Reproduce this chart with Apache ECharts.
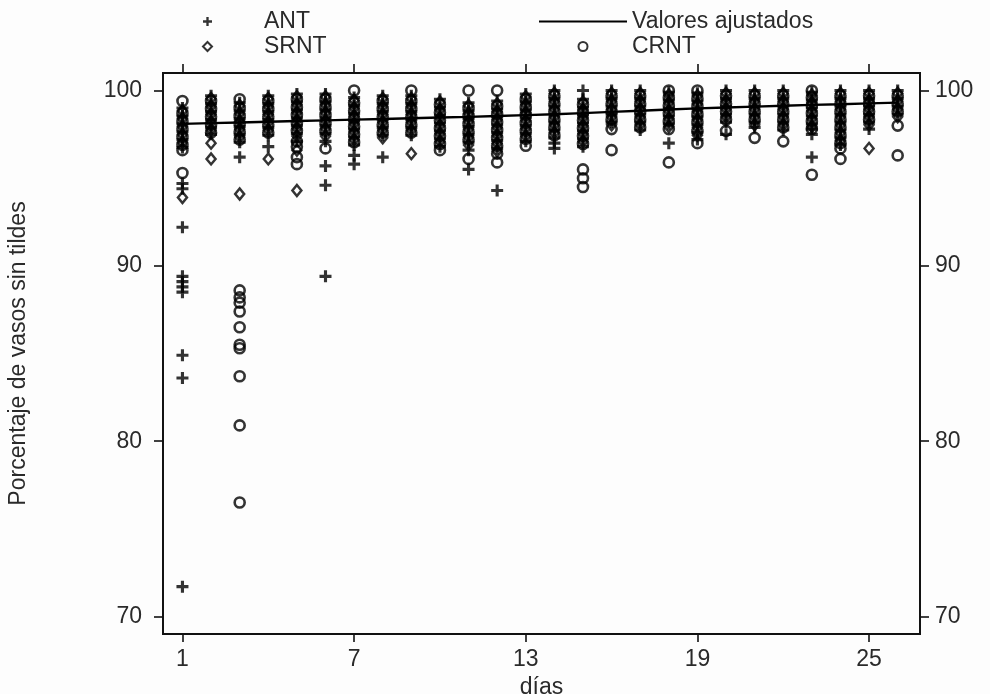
<!DOCTYPE html>
<html>
<head>
<meta charset="utf-8">
<script src="https://cdn.jsdelivr.net/npm/echarts@6/dist/echarts.min.js"></script>
<style>
html,body{margin:0;padding:0;background:#fdfdfd;}
#chart{width:990px;height:694px;}
</style>
</head>
<body>
<div id="chart"></div>
<script>
// Day numbers (x values)
const days = [1,2,3,4,5,6,7,8,9,10,11,12,13,14,15,16,17,18,19,20,21,22,23,24,25,26];
const xTicks = [1,7,13,19,25];
const yTicks = [70,80,90,100];

// ANT (+) values per day
const antByDay = [
  [99.0,98.55,98.1,97.65,97.2,96.75,94.7,94.4,92.2,89.4,89.1,88.8,88.5,84.9,83.6,71.7],
  [99.7,99.25,98.8,98.35,97.9,97.5],
  [99.3,98.85,98.4,97.95,97.5,97.05,96.2],
  [99.7,99.25,98.8,98.35,97.9,97.45,96.8],
  [99.8,99.35,98.9,98.45,98.0,97.55,97.1],
  [99.8,99.35,98.9,98.45,98.0,97.55,97.1,95.7,94.6,89.4],
  [99.6,99.15,98.7,98.25,97.8,97.35,96.9,96.3,95.8],
  [99.7,99.25,98.8,98.35,97.9,97.45,96.2],
  [99.7,99.25,98.8,98.35,97.9,97.45],
  [99.5,99.05,98.6,98.15,97.7,97.25,96.8],
  [99.3,98.85,98.4,97.95,97.5,97.05,96.6,95.5],
  [99.4,98.95,98.5,98.05,97.6,97.15,96.7,94.3],
  [99.8,99.35,98.9,98.45,98.0,97.55,97.1],
  [100.0,99.55,99.1,98.65,98.2,97.75,97.3,97.0,96.7],
  [100.0,99.5,99.05,98.6,98.15,97.7,97.25,96.8],
  [100.0,99.55,99.1,98.65,98.2],
  [100.0,99.55,99.1,98.65,98.2,97.75],
  [99.9,99.45,99.0,98.55,98.1,97.0],
  [99.85,99.4,98.95,98.5,98.05,97.6,97.2],
  [100.0,99.55,99.1,98.65,98.2,97.5],
  [100.0,99.55,99.1,98.65,98.2,97.9],
  [100.0,99.55,99.1,98.65,98.2,97.75],
  [99.9,99.45,99.0,98.55,98.1,97.8,97.5,96.2],
  [100.0,99.55,99.1,98.65,98.2,97.75,97.3,96.9],
  [100.0,99.55,99.1,98.65,98.2,97.8],
  [100.0,99.55,99.1,98.65]
];

// SRNT (diamond) values per day
const srntByDay = [
  [98.85,98.4,97.95,97.5,97.05,93.9],
  [99.55,99.1,98.65,98.2,97.75,97.0,96.1],
  [99.15,98.7,98.25,97.8,97.35,94.1],
  [99.55,99.1,98.65,98.2,97.75,96.1],
  [99.65,99.2,98.75,98.3,97.85,97.4,96.6,94.3],
  [99.65,99.2,98.75,98.3,97.85,97.4],
  [99.45,99.0,98.55,98.1,97.65,97.2],
  [99.55,99.1,98.65,98.2,97.75,97.3],
  [99.55,99.1,98.65,98.2,97.75,96.4],
  [99.35,98.9,98.45,98.0,97.55,97.1],
  [99.15,98.7,98.25,97.8,97.35,96.9],
  [99.25,98.8,98.35,97.9,97.45,97.0,96.55],
  [99.65,99.2,98.75,98.3,97.85,97.4],
  [99.85,99.4,98.95,98.5,98.05,97.6],
  [99.35,98.9,98.45,98.0,97.55,97.1],
  [99.85,99.4,98.95,98.5,98.05],
  [99.85,99.4,98.95,98.5,98.05],
  [99.75,99.3,98.85,98.4,97.95],
  [99.7,99.25,98.8,98.35,97.9,97.45],
  [99.85,99.4,98.95,98.5],
  [99.85,99.4,98.95,98.5,98.05],
  [99.85,99.4,98.95,98.5,98.05],
  [99.75,99.3,98.85,98.4,97.95],
  [99.85,99.4,98.95,98.5,98.05,97.6,97.15],
  [99.85,99.4,98.95,98.5,98.05,96.7],
  [99.85,99.4,98.95,98.5]
];

// CRNT (circle) values per day
const crntByDay = [
  [99.4,98.7,98.25,97.8,97.35,96.9,96.6,95.3],
  [99.4,98.95,98.5,98.05,97.6],
  [99.5,99.0,98.55,98.1,97.65,97.2,88.6,88.2,87.9,87.4,86.5,85.5,85.3,83.7,80.9,76.5],
  [99.4,98.95,98.5,98.05,97.6],
  [99.5,99.05,98.6,98.15,97.7,97.1,96.8,96.2,95.8],
  [99.5,99.05,98.6,98.15,97.7,96.7],
  [100.0,99.3,98.85,98.4,97.95,97.5,97.05],
  [99.4,98.95,98.5,98.05,97.6],
  [100.0,99.4,98.95,98.5,98.05,97.6],
  [99.2,98.75,98.3,97.85,97.4,96.95,96.6],
  [100.0,99.0,98.55,98.1,97.65,97.2,96.1],
  [100.0,99.1,98.65,98.2,97.75,97.3,96.85,96.4,95.9],
  [99.5,99.05,98.6,98.15,97.7,97.25,96.85],
  [99.7,99.25,98.8,98.35,97.9,97.45],
  [99.2,98.75,98.3,97.85,97.4,96.95,95.5,95.0,94.5],
  [99.7,99.25,98.8,98.35,97.8,96.6],
  [99.7,99.25,98.8,98.35,97.9],
  [100.0,99.6,99.15,98.7,98.25,97.8,95.9],
  [100.0,99.55,99.1,98.65,98.2,97.7,97.0],
  [99.7,99.25,98.8,98.35,97.7],
  [99.7,99.25,98.8,98.35,97.3],
  [99.7,99.25,98.8,98.35,97.9,97.1],
  [100.0,99.6,99.15,98.7,98.25,97.8,95.2],
  [99.7,99.25,98.8,98.35,97.9,97.45,97.0,96.7,96.1],
  [99.7,99.25,98.8,98.35],
  [99.7,99.25,98.8,98.0,96.3]
];

// Fitted values ("Valores ajustados") per day
const fitted = [98.10,98.14,98.18,98.22,98.26,98.30,98.34,98.38,98.42,98.46,98.50,98.55,98.60,
                98.65,98.71,98.78,98.85,98.92,98.98,99.03,99.08,99.13,99.18,99.22,99.27,99.31];

function pairs(byDay){
  const out = [];
  byDay.forEach((vals, i) => vals.forEach(v => out.push([days[i], v])));
  return out;
}

const ink = '#000';
const textColor = '#2a2a2a';
const font = "'Liberation Sans', Arial, Helvetica, sans-serif";
const fs = 23;
const plusPath = 'path://M-1.3,-5H1.3V-1.3H5V1.3H1.3V5H-1.3V1.3H-5V-1.3H-1.3Z';

const chart = echarts.init(document.getElementById('chart'));
chart.setOption({
  backgroundColor: '#fdfdfd',
  animation: false,
  textStyle: { fontFamily: font },
  grid: { left: 163, right: 70, top: 73, bottom: 60, outerBoundsMode: 'none', containLabel: false,
          show: true, borderColor: '#111', borderWidth: 1.8, backgroundColor: 'transparent' },
  legend: [
    {
      data: [{ name: 'ANT', icon: plusPath }, { name: 'SRNT', icon: 'diamond' }],
      orient: 'vertical', left: 202, top: 10, padding: 0, itemWidth: 9, itemHeight: 9, itemGap: 2,
      textStyle: { fontSize: fs, color: textColor, fontFamily: font, padding: [0, 0, 0, 47] },
      selectedMode: false
    },
    {
      data: [{ name: 'Valores ajustados', itemStyle: { opacity: 0 } }, { name: 'CRNT', icon: 'circle' }],
      orient: 'vertical', left: 538, top: 10, padding: 0, itemWidth: 88, itemHeight: 9, itemGap: 2,
      textStyle: { fontSize: fs, color: textColor, fontFamily: font },
      selectedMode: false
    }
  ],
  xAxis: [
    {
      type: 'value', min: 0.32, max: 26.78, position: 'bottom',
      name: 'días', nameLocation: 'middle', nameGap: 37,
      nameTextStyle: { fontSize: fs, color: textColor, fontFamily: font },
      axisLine: { show: true, lineStyle: { color: '#111', width: 1.8 } },
      axisTick: { show: true, length: 8, lineStyle: { color: '#111', width: 1.6 }, customValues: xTicks },
      axisLabel: { fontSize: fs, color: textColor, margin: 14, customValues: xTicks },
      splitLine: { show: false }
    },
    {
      type: 'value', min: 0.32, max: 26.78, position: 'top',
      axisLine: { show: true, lineStyle: { color: '#111', width: 1.8 } },
      axisTick: { show: true, length: 9, lineStyle: { color: '#111', width: 1.6 }, customValues: xTicks },
      axisLabel: { show: false },
      splitLine: { show: false }
    }
  ],
  yAxis: [
    {
      type: 'value', min: 69, max: 101, position: 'left',
      name: 'Porcentaje de vasos sin tildes', nameLocation: 'middle', nameGap: 133,
      nameTextStyle: { fontSize: fs, color: textColor, fontFamily: font },
      axisLine: { show: true, lineStyle: { color: '#111', width: 1.8 } },
      axisTick: { show: true, length: 9, lineStyle: { color: '#111', width: 1.6 }, customValues: yTicks },
      axisLabel: { fontSize: fs, color: textColor, margin: 21, customValues: yTicks },
      splitLine: { show: false }
    },
    {
      type: 'value', min: 69, max: 101, position: 'right',
      axisLine: { show: true, lineStyle: { color: '#111', width: 1.8 } },
      axisTick: { show: true, length: 9, lineStyle: { color: '#111', width: 1.6 }, customValues: yTicks },
      axisLabel: { fontSize: fs, color: textColor, margin: 15, customValues: yTicks },
      splitLine: { show: false }
    }
  ],
  series: [
    {
      name: 'ANT', type: 'scatter', symbol: plusPath, symbolSize: 12, symbolKeepAspect: true,
      itemStyle: { color: ink },
      data: pairs(antByDay), z: 3
    },
    {
      name: 'SRNT', type: 'scatter', symbol: 'diamond', symbolSize: [9, 11],
      itemStyle: { color: 'transparent', borderColor: ink, borderWidth: 2.5 },
      data: pairs(srntByDay), z: 3
    },
    {
      name: 'Valores ajustados', type: 'line', symbol: 'none', showSymbol: false,
      lineStyle: { color: ink, width: 2.4 }, itemStyle: { color: ink },
      data: days.map((d, i) => [d, fitted[i]]), z: 4
    },
    {
      name: 'CRNT', type: 'scatter', symbol: 'circle', symbolSize: 10,
      itemStyle: { color: 'transparent', borderColor: ink, borderWidth: 2.6 },
      data: pairs(crntByDay), z: 3
    }
  ]
});
</script>
</body>
</html>
